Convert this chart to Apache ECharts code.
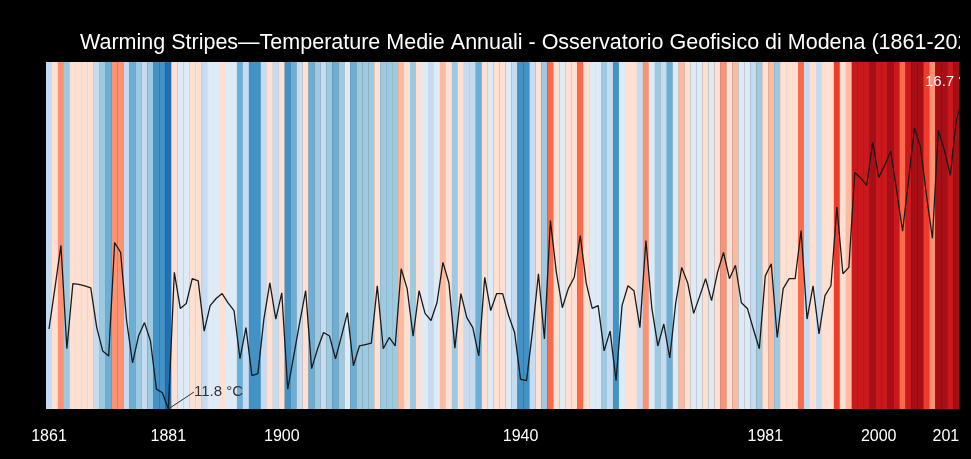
<!DOCTYPE html>
<html>
<head>
<meta charset="utf-8">
<script src="https://cdn.jsdelivr.net/npm/echarts@6/dist/echarts.min.js"></script>
<style>
html,body{margin:0;padding:0;background:#000;}
#chart{width:971px;height:459px;}
</style>
</head>
<body>
<div id="chart"></div>
<script>
// Years 1861–2022 (categories)
const years = Array.from({length: 162}, (_, i) => 1861 + i);

// Annual mean temperature (°C)
const temps = [
  12.93, 13.51, 14.11, 12.65, 13.57, 13.56, 13.54, 13.51, 12.95, 12.62,
  12.55, 14.15, 14.01, 13.05, 12.45, 12.83, 13.02, 12.76, 12.08, 12.03,
  11.80, 13.73, 13.22, 13.29, 13.64, 13.61, 12.90, 13.26, 13.36, 13.43,
  13.30, 13.19, 12.51, 12.95, 12.27, 12.30, 13.07, 13.58, 13.07, 13.44,
  12.08, 12.55, 13.02, 13.47, 12.37, 12.65, 12.88, 12.83, 12.51, 12.83,
  13.16, 12.41, 12.69, 12.71, 12.73, 13.54, 12.65, 12.81, 12.69, 13.78,
  13.50, 12.83, 13.47, 13.15, 13.05, 13.30, 13.87, 13.58, 12.66, 13.43,
  13.09, 12.95, 12.55, 13.66, 13.19, 13.43, 13.43, 13.12, 12.88, 12.22,
  12.20, 12.90, 13.71, 12.79, 14.46, 13.73, 13.23, 13.50, 13.66, 14.25,
  13.58, 13.22, 13.26, 12.62, 12.90, 12.20, 13.26, 13.54, 13.47, 12.95,
  14.18, 13.22, 12.69, 13.00, 12.52, 13.30, 13.80, 13.58, 13.15, 13.39,
  13.64, 13.33, 13.73, 14.01, 13.64, 13.83, 13.30, 13.22, 12.93, 12.65,
  13.68, 13.85, 12.81, 13.50, 13.64, 13.64, 14.32, 13.07, 13.54, 12.86,
  13.40, 13.54, 14.65, 13.71, 13.80, 15.14, 15.06, 14.96, 15.57, 15.07,
  15.24, 15.44, 14.89, 14.31, 15.03, 15.77, 15.50, 14.82, 14.21, 15.74,
  15.45, 15.10, 15.88, 16.16, 16.00, 16.30, 15.90, 16.20, 16.40, 16.10,
  15.90, 16.70
];

// Tick labels shown on the x axis
const labelYears = [1861, 1881, 1900, 1940, 1981, 2000, 2012];

// Stripe palette and class breaks (°C)
const stripeColors = ['#08306b','#08519c','#2171b5','#4292c6','#6baed6','#9ecae1','#c6dbef','#deebf7',
                      '#fee0d2','#fcbba1','#fc9272','#fb6a4a','#ef3b2c','#cb181d','#a50f15','#67000d'];
const colorBreaks = [11.4, 11.7, 12.0, 12.35, 12.6, 12.85, 13.12, 13.4, 13.75, 13.97, 14.22, 14.47, 14.85, 15.37, 16.0];

const pieces = stripeColors.map((c, k) => {
  const p = {color: c};
  if (k > 0) p.gte = colorBreaks[k - 1];
  if (k < stripeColors.length - 1) p.lt = colorBreaks[k];
  return p;
});

let minIdx = 0, maxIdx = 0;
temps.forEach((v, i) => { if (v < temps[minIdx]) minIdx = i; if (v > temps[maxIdx]) maxIdx = i; });

const lineData = temps.map((v, i) => {
  if (i === minIdx) {
    return {
      value: v,
      label: {show: true, formatter: '{c} °C', color: '#333', fontSize: 15, fontFamily: 'Liberation Sans'},
      labelLine: {show: true, lineStyle: {color: '#333', width: 1}}
    };
  }
  if (i === maxIdx) {
    return {
      value: v,
      label: {show: true, formatter: '{c} °C', color: '#fff', fontSize: 15, fontFamily: 'Liberation Sans'},
      labelLine: {show: false}
    };
  }
  return v;
});

const chart = echarts.init(document.getElementById('chart'), null, {renderer: 'canvas'});
chart.setOption({
  backgroundColor: '#000',
  animation: false,
  title: {
    text: 'Warming Stripes\u2014Temperature Medie Annuali - Osservatorio Geofisico di Modena (1861-2022)',
    left: 75, top: 27,
    textStyle: {color: '#fff', fontSize: 21.5, fontWeight: 'normal', fontFamily: 'Liberation Sans'}
  },
  grid: {left: 46, width: 967, top: 62, bottom: 50, outerBoundsMode: 'none', containLabel: false},
  xAxis: {
    type: 'category',
    data: years.map(String),
    boundaryGap: true,
    axisLine: {show: false},
    axisTick: {show: false},
    splitLine: {show: false},
    axisLabel: {
      color: '#fff', fontSize: 16, fontFamily: 'Liberation Sans', margin: 20,
      interval: (idx, val) => labelYears.includes(Number(val))
    }
  },
  yAxis: [
    {type: 'value', min: 11.8, max: 16.7, show: false},
    {type: 'value', min: 0, max: 1, show: false}
  ],
  visualMap: {
    type: 'piecewise', show: false, dimension: 2, seriesIndex: 0, pieces: pieces
  },
  series: [
    {
      type: 'bar',
      yAxisIndex: 1,
      barWidth: '104%',
      barCategoryGap: 0,
      encode: {x: 0, y: 1},
      data: years.map((y, i) => [String(y), 1, temps[i]]),
      silent: true,
      z: 1
    },
    {
      type: 'line',
      yAxisIndex: 0,
      data: lineData,
      symbol: 'circle',
      symbolSize: 0,
      showSymbol: true,
      showAllSymbol: true,
      lineStyle: {color: '#1a1a1a', width: 1.3},
      itemStyle: {color: '#1a1a1a'},
      labelLine: {show: true},
      labelLayout: (params) => {
        if (params.dataIndex === minIdx) return {x: 194, y: 392, align: 'left', verticalAlign: 'middle'};
        if (params.dataIndex === maxIdx) return {x: 925, y: 82, align: 'left', verticalAlign: 'middle'};
        return {};
      },
      z: 3
    }
  ],
  graphic: [{
    type: 'rect', left: 960, top: 0, z: 100,
    shape: {width: 11, height: 459},
    style: {fill: '#000'}
  }]
});
</script>
</body>
</html>
